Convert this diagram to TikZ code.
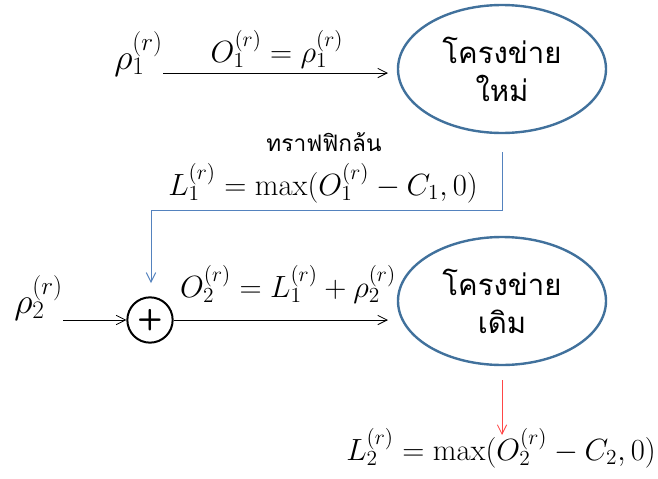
\RequirePackage{fix-cm}
\documentclass[tikz,border=0pt]{standalone}
\usepackage{fontspec}
\newfontfamily\thaifont[Script=Thai]{Loma}
\usetikzlibrary{arrows.meta,shapes.geometric}
\definecolor{ellblue}{RGB}{65,113,156}
\definecolor{lineblue}{RGB}{84,130,190}
\definecolor{arrred}{RGB}{255,70,70}
\begin{document}
\begin{tikzpicture}[x=0.75pt,y=-0.75pt,
  net/.style={ellipse, draw=ellblue, line width=1.8pt, minimum width=156pt, minimum height=96pt, inner sep=0pt, align=center, font=\thaifont\fontsize{22}{28.5}\selectfont},
  mth/.style={font=\fontsize{23}{28}\selectfont, inner sep=0pt},
  bigmth/.style={font=\fontsize{27}{32}\selectfont, inner sep=0pt},
  arr/.style={-{Straight Barb[length=7pt,width=7pt]}, line width=0.6pt},
]
\useasboundingbox (0,0) rectangle (658,479);
% ellipses
\node[net] (e1) at (502,69) {โครงข่าย\\ใหม่};
\node[net] (e2) at (502,301) {โครงข่าย\\เดิม};
% top branch
\node[bigmth, anchor=base west] (rho1) at (114,69) {$\rho_1^{(r)}$};
\coordinate (a1e) at (388,73);
\draw[arr] (rho1.east |- a1e) -- (a1e);
\node[mth, anchor=base] (lab1) at (277,62) {$O_1^{(r)} = \rho_1^{(r)}$};
% overflow connector
\coordinate (b1) at (502,152);
\coordinate (b3) at (151,210);
\coordinate (b4) at (151,283);
\draw[lineblue, arr, line width=0.75pt] (b1) |- (b3) -- (b4);
\node[font=\thaifont\fontsize{17}{20}\selectfont, anchor=base, inner sep=0pt] (trf) at (324,151) {ทราฟฟิกล้น};
\node[mth, anchor=base] (l1) at (323,195) {$L_1^{(r)} = \max(O_1^{(r)} - C_1, 0)$};
% bottom branch
\node[circle, draw, line width=1.5pt, minimum size=34pt, inner sep=0pt, font=\sffamily\bfseries\fontsize{22}{22}\selectfont] (plus) at (150,320) {+};
\node[bigmth, anchor=base west] (rho2) at (14,313) {$\rho_2^{(r)}$};
\draw[arr] (rho2.east |- plus.west) -- (plus.west);
\coordinate (a2e) at (388,320);
\draw[arr] (plus.east) -- (a2e);
\node[mth, anchor=base] (lab2) at (288,297) {$O_2^{(r)} = L_1^{(r)} + \rho_2^{(r)}$};
% output
\coordinate (r1) at (502,380);
\coordinate (r2) at (502,435);
\draw[arrred, arr] (r1) -- (r2);
\node[mth, anchor=base] (l2) at (501,460) {$L_2^{(r)} = \max(O_2^{(r)} - C_2, 0)$};
\end{tikzpicture}
\end{document}
